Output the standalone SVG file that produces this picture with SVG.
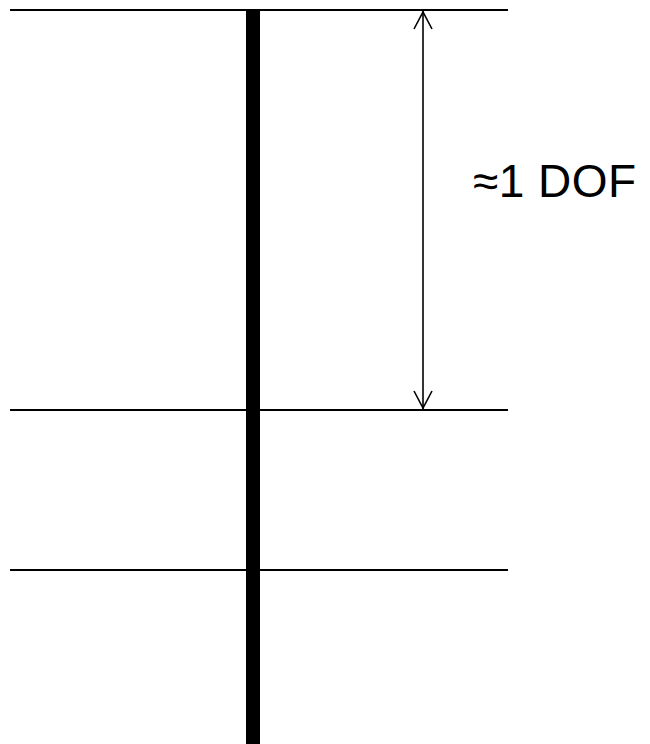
<svg xmlns="http://www.w3.org/2000/svg" width="650" height="744" viewBox="0 0 650 744">
<style>
.h{stroke:#000;stroke-width:2;fill:none}
.a{stroke:#000;stroke-width:1.6;fill:none}
.t{font-family:"Liberation Sans",Arial,sans-serif;font-size:46px;fill:#000}
</style>
<rect width="650" height="744" fill="#fff"/>
<g id="lines">
<line class="h" x1="10" y1="10" x2="508" y2="10"/>
<line class="h" x1="10" y1="410" x2="508" y2="410"/>
<line class="h" x1="10" y1="570" x2="508" y2="570"/>
</g>
<g id="bar"><rect x="246" y="10" width="14" height="734" fill="#000"/></g>
<g id="connectors">
<line class="a" x1="423" y1="11" x2="423" y2="409"/>
<polyline class="a" points="414,29 423,12 432,29"/>
<polyline class="a" points="414,391 423,408 432,391"/>
</g>
<g id="label"><text class="t" x="473" y="197" textLength="163" lengthAdjust="spacing">≈1 DOF</text></g>
</svg>
